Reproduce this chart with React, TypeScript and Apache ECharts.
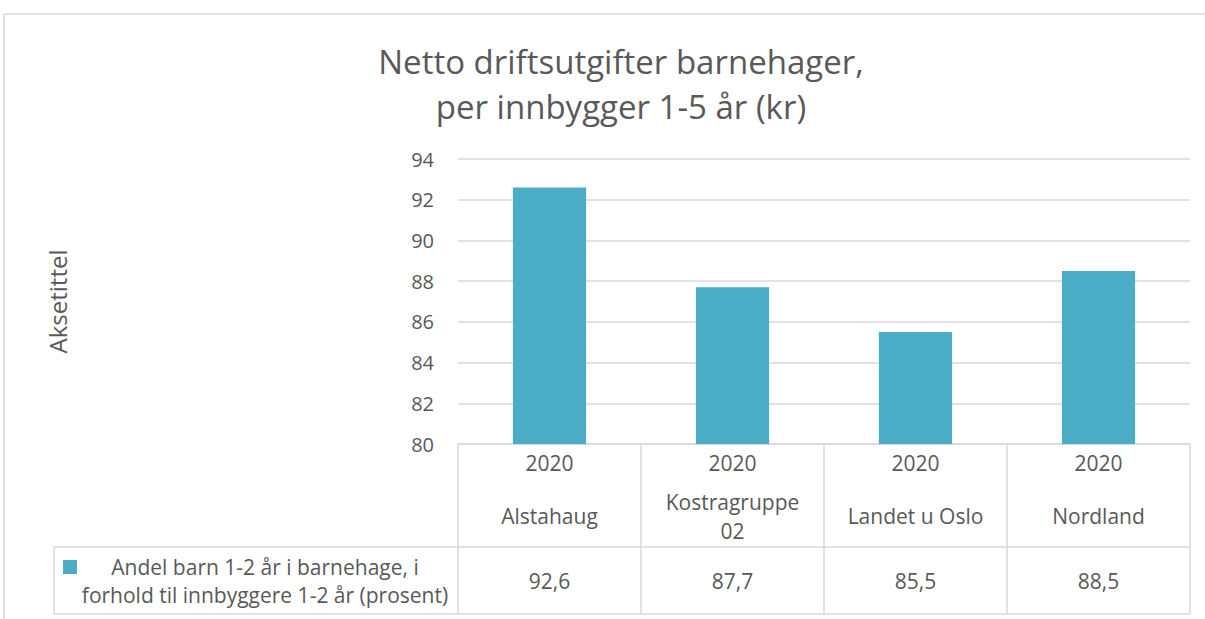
import React, { useEffect, useRef } from "react";
import * as echarts from "echarts";

const years = ["2020", "2020", "2020", "2020"];
const categories = ["Alstahaug", "Kostragruppe\n02", "Landet u Oslo", "Nordland"];
const values = [92.6, 87.7, 85.5, 88.5];
const seriesName = "Andel barn 1-2 år i barnehage, i\nforhold til innbyggere 1-2 år (prosent)";
const titleText = "Netto driftsutgifter barnehager,\nper innbygger 1-5 år (kr)";
const yAxisTitle = "Aksetittel";

const FONT = "'Open Sans', 'Noto Sans', sans-serif";
const TXT = "#595959";
const LINE = "#d9d9d9";
const BAR = "#4BACC6";

export default function App() {
  const ref = useRef<HTMLDivElement>(null);
  useEffect(() => {
    document.body.style.margin = "0";
    const chart = echarts.init(ref.current!, undefined, { renderer: "svg" });
    const gl = 458, gr = 1190, gt = 159, gb = 444;
    const rowMid = 547, rowEnd = 614, legL = 54;
    const colW = (gr - gl) / categories.length;
    const lines: any[] = [];
    const L = (x1: number, y1: number, x2: number, y2: number) =>
      lines.push({ type: "line", shape: { x1, y1, x2, y2 }, style: { stroke: LINE, lineWidth: 1.5 }, silent: true });
    L(4, 14, 1205, 14);
    L(4, 14, 4, 619);
    L(gl, gb, gr, gb);
    L(legL, rowMid, gr, rowMid);
    L(legL, rowEnd, gr, rowEnd);
    L(legL, rowMid, legL, rowEnd);
    for (let i = 0; i <= categories.length; i++) L(gl + i * colW, gb, gl + i * colW, rowEnd);

    const labelAxis = (data: string[], margin: number, lh: number) => ({
      type: "category",
      data,
      position: "bottom",
      axisLine: { show: false },
      axisTick: { show: false },
      axisLabel: {
        margin,
        color: TXT,
        fontFamily: FONT,
        fontSize: 21,
        lineHeight: lh,
        verticalAlign: "middle",
        interval: 0,
      },
    });

    chart.setOption({
      animation: false,
      title: {
        text: titleText,
        left: 616,
        top: 34,
        textAlign: "center",
        textStyle: { color: TXT, fontFamily: FONT, fontSize: 33, fontWeight: "normal", lineHeight: 45 },
      },
      grid: { left: gl, right: 1205 - gr, top: gt, bottom: 619 - gb },
      xAxis: [
        labelAxis(years, 19, 22),
        labelAxis(categories, 72, 29),
        labelAxis(values.map((v) => v.toFixed(1).replace(".", ",")), 137, 22),
      ],
      yAxis: {
        type: "value",
        min: 80,
        max: 94,
        interval: 2,
        name: yAxisTitle,
        nameLocation: "middle",
        nameGap: 389,
        nameRotate: 90,
        nameTextStyle: { color: TXT, fontFamily: FONT, fontSize: 24 },
        axisLine: { show: false },
        axisTick: { show: false },
        axisLabel: { color: TXT, fontFamily: FONT, fontSize: 20, margin: 24 },
        splitLine: { lineStyle: { color: LINE, width: 1.5 } },
      },
      series: [
        {
          type: "bar",
          name: seriesName,
          data: values,
          xAxisIndex: 0,
          barWidth: "40%",
          itemStyle: { color: BAR },
        },
      ],
      graphic: [
        ...lines,
        {
          type: "rect",
          shape: { x: 63, y: 560, width: 14, height: 14 },
          style: { fill: BAR },
        },
        {
          type: "text",
          x: 265,
          y: 581,
          style: {
            text: seriesName,
            fill: TXT,
            font: `21px ${FONT}`,
            textAlign: "center",
            textVerticalAlign: "middle",
            lineHeight: 28,
          },
        },
      ],
    });
    return () => chart.dispose();
  }, []);
  return <div ref={ref} style={{ width: 1205, height: 619 }} />;
}
